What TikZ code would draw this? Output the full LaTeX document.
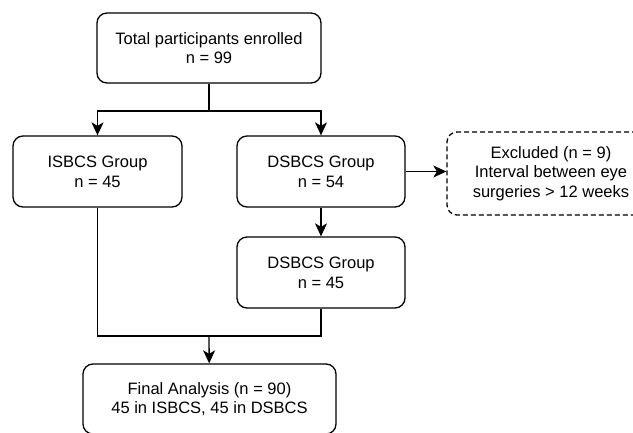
\documentclass[tikz,border=0pt]{standalone}
\usepackage{fontspec}
\setmainfont{Liberation Sans}
\usepackage{tikz}
\usetikzlibrary{arrows.meta,calc}

\begin{document}
\begin{tikzpicture}[x=1pt,y=-1pt,
  stage/.style={draw,line width=1.3pt,rounded corners=10pt,align=center,
    font=\fontsize{16.5}{19.7}\selectfont,inner sep=0pt},
  flow/.style={line width=1.3pt,-{Stealth[length=13pt,width=12pt,inset=3.5pt]}}]
\useasboundingbox (0,0) rectangle (633,432);
\clip (0,0) rectangle (633,432);
\node[stage,minimum width=224pt,minimum height=70pt] (enrolled) at (209,48) {Total participants enrolled\\n = 99};
\node[stage,minimum width=169pt,minimum height=71pt] (isbcs) at (97.5,171.5) {ISBCS Group\\n = 45};
\node[stage,minimum width=168pt,minimum height=71pt] (dsbcs) at (321,171.5) {DSBCS Group\\n = 54};
\node[stage,dash pattern=on 5pt off 3pt,minimum width=208pt,minimum height=83pt] (excluded) at (551,173.5) {Excluded (n = 9)\\Interval between eye\\surgeries > 12 weeks};
\node[stage,minimum width=168pt,minimum height=71pt] (dsbcsb) at (321,272.5) {DSBCS Group\\n = 45};
\node[stage,minimum width=253pt,minimum height=70pt] (final) at (209.5,399) {Final Analysis (n = 90)\\45 in ISBCS, 45 in DSBCS};
\coordinate (split) at (209,111);
\coordinate (merge) at (209,336);
\draw[line width=1.3pt] (enrolled) -- (split);
\draw[flow] (split) -| (isbcs);
\draw[flow] (split) -| (dsbcs);
\draw[flow] (dsbcs.east) -- (dsbcs.east -| excluded.west);
\draw[flow] (dsbcs) -- (dsbcsb);
\draw[line width=1.3pt] (isbcs) |- (merge) -| (dsbcsb);
\draw[flow] (merge) -- (final);
\end{tikzpicture}
\end{document}
